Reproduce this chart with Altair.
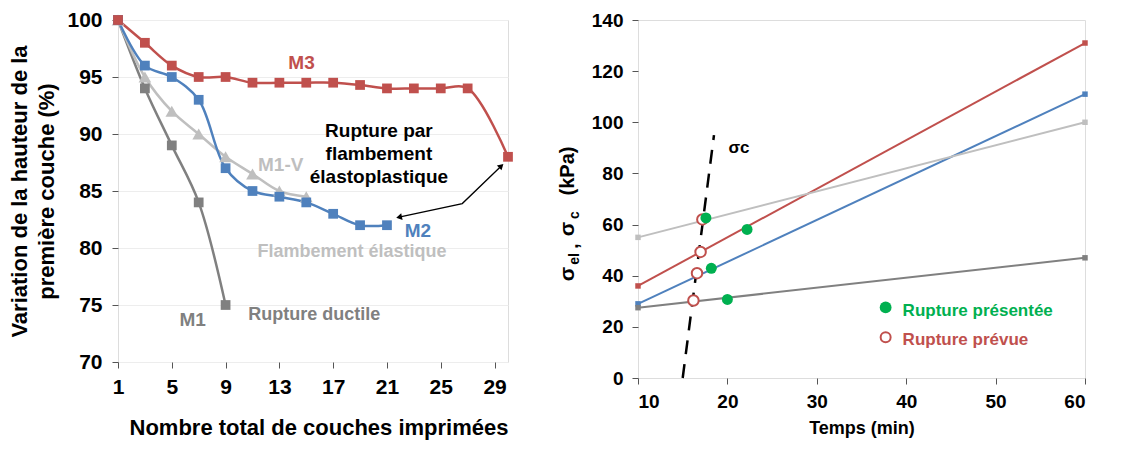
import altair as alt
import pandas as pd

FONT = "Liberation Sans"
RED = "#c0504d"
BLUE = "#4f81bd"
LGRAY = "#bfbfbf"
GRAY = "#808080"
GREEN = "#00b050"

# ---------------- Left panel data ----------------
series_names = ["M1", "M1-V", "M2", "M3"]
m3_x = [1, 3, 5, 7, 9, 11, 13, 15, 17, 19, 21, 23, 25, 27, 30]
m3_y = [100, 98, 96, 95, 95, 94.5, 94.5, 94.5, 94.5, 94.3, 94, 94, 94, 94, 88]
m2_x = [1, 3, 5, 7, 9, 11, 13, 15, 17, 19, 21]
m2_y = [100, 96, 95, 93, 87, 85, 84.5, 84, 83, 82, 82]
m1v_x = [1, 3, 5, 7, 9, 11, 13, 15]
m1v_y = [100, 95, 92, 90, 88, 86.5, 85, 84.5]
m1_x = [1, 3, 5, 7, 9]
m1_y = [100, 94, 89, 84, 75]
left_x_ticks = [1, 5, 9, 13, 17, 21, 25, 29]
left_y_ticks = [70, 75, 80, 85, 90, 95, 100]

# annotation texts (left)
left_labels = ["M3", "M1-V", "M2", "Flambement élastique", "M1", "Rupture ductile"]
left_label_x = [14.65, 13.1, 23.3, 18.4, 6.55, 15.6]
left_label_y = [96.2, 87.3, 81.5, 79.65, 73.7, 74.15]
left_label_col = [RED, LGRAY, BLUE, LGRAY, GRAY, GRAY]
left_label_fs = [19, 19, 19, 18, 19, 18]
rupt_text = ["Rupture par", "flambement", "élastoplastique"]
rupt_x = 20.4
rupt_y = 90.25
arrow_x = [21.9, 26.6, 29.5]
arrow_y = [82.7, 83.9, 87.2]

# ---------------- Right panel data ----------------
right_series = ["M3", "M2", "M1 - V", "M1"]
right_t = [10, 60]
r_m3 = [36, 131]
r_m2 = [29, 111]
r_m1v = [55, 100]
r_m1 = [27.5, 47]
sigma_c_t = [15, 18.5]
sigma_c_v = [0, 95]
obs_t = [17.6, 22.2, 18.2, 20.0]
obs_v = [62.6, 58.1, 42.9, 30.7]
pred_t = [17.2, 17.0, 16.6, 16.2]
pred_v = [62.0, 49.3, 41.0, 30.3]
right_x_ticks = [10, 20, 30, 40, 50, 60]
right_y_ticks = [0, 20, 40, 60, 80, 100, 120, 140]
right_label_t = [53.9, 56.9, 54.6, 57.4]
right_label_v = [131.1, 114.5, 85.3, 53.1]
legend_names = ["Rupture présentée", "Rupture prévue"]

# ================= Left chart =================
rows = []
for name, xs, ys in [("M1", m1_x, m1_y), ("M1-V", m1v_x, m1v_y), ("M2", m2_x, m2_y), ("M3", m3_x, m3_y)]:
    for i, (a, b) in enumerate(zip(xs, ys)):
        rows.append({"series": name, "x": a, "y": b, "i": i})
ldf = pd.DataFrame(rows)

lcolor = alt.Color("series:N", scale=alt.Scale(domain=series_names, range=[GRAY, LGRAY, BLUE, RED]), legend=None)
lx = alt.X("x:Q", scale=alt.Scale(domain=[1, 30], nice=False),
           axis=alt.Axis(values=left_x_ticks, title="Nombre total de couches imprimées", grid=False,
                         labelFontSize=21, labelFont=FONT, labelFontWeight="bold", labelColor="black",
                         titleFontSize=22, titleFont=FONT, titleFontWeight="bold", titleColor="black",
                         titleAnchor="end", titlePadding=20, labelPadding=8,
                         tickSize=6, tickColor="#555", domain=False, labelFlush=False))
ly = alt.Y("y:Q", scale=alt.Scale(domain=[70, 100], nice=False),
           axis=alt.Axis(values=left_y_ticks, title=["Variation de la hauteur de la", "première couche  (%)"],
                         grid=True, gridColor="#ededed",
                         labelFontSize=21, labelFont=FONT, labelFontWeight="bold", labelColor="black",
                         titleFontSize=22, titleFont=FONT, titleFontWeight="bold", titleColor="black",
                         titleLineHeight=27, titlePadding=8, labelPadding=10,
                         tickSize=6, tickColor="#555", domain=False))

lbase = alt.Chart(ldf)
l_lines = lbase.mark_line(interpolate="catmull-rom", strokeWidth=2.5).encode(
    x=lx, y=ly, color=lcolor, detail="series:N", order="i:Q")
l_sq = lbase.transform_filter(alt.datum.series != "M1-V").mark_point(
    shape="square", filled=True, opacity=1, size=95).encode(x="x:Q", y="y:Q", color=lcolor)
l_tri = lbase.transform_filter(alt.datum.series == "M1-V").mark_point(
    shape="triangle-up", filled=True, opacity=1, size=160).encode(x="x:Q", y="y:Q", color=lcolor)

lab_df = pd.DataFrame({"t": left_labels, "x": left_label_x, "y": left_label_y, "c": left_label_col,
                       "fs": left_label_fs})
l_text = alt.Chart(lab_df).mark_text(font=FONT, fontWeight="bold").encode(
    x="x:Q", y="y:Q", text="t:N", color=alt.Color("c:N", scale=None), size=alt.Size("fs:Q", scale=None))
rupt_df = pd.DataFrame({"x": [rupt_x], "y": [rupt_y], "t": [rupt_text]})
l_rupt = alt.Chart(rupt_df).mark_text(font=FONT, fontWeight="bold", fontSize=19, lineHeight=23,
                                      baseline="middle", color="black").encode(x="x:Q", y="y:Q", text="t")
arr_df = pd.DataFrame({"x": arrow_x, "y": arrow_y, "i": [0, 1, 2]})
l_arrow = alt.Chart(arr_df).mark_line(color="black", strokeWidth=1.3).encode(x="x:Q", y="y:Q", order="i:Q")
head_df = pd.DataFrame({"x": [arrow_x[0], arrow_x[2]], "y": [arrow_y[0], arrow_y[2]], "a": [168, 316]})
l_heads = alt.Chart(head_df).mark_point(shape="triangle-right", filled=True, color="black", size=45, opacity=1).encode(
    x="x:Q", y="y:Q", angle=alt.Angle("a:Q", scale=None))

left = alt.layer(l_lines, l_tri, l_sq, l_text, l_rupt, l_arrow, l_heads).properties(width=390, height=342)

# ================= Right chart =================
rrows = []
for name, vs in zip(right_series, [r_m3, r_m2, r_m1v, r_m1]):
    for t, v in zip(right_t, vs):
        rrows.append({"series": name, "t": t, "v": v})
rdf = pd.DataFrame(rrows)
rcolor = alt.Color("series:N", scale=alt.Scale(domain=right_series, range=[RED, BLUE, LGRAY, GRAY]), legend=None)
rx = alt.X("t:Q", scale=alt.Scale(domain=[10, 60], nice=False),
           axis=alt.Axis(values=right_x_ticks, title="Temps (min)", grid=False,
                         labelFontSize=19, labelFont=FONT, labelFontWeight="bold", labelColor="black",
                         titleFontSize=18, titleFont=FONT, titleFontWeight="bold", titleColor="black",
                         titlePadding=8, labelPadding=8, tickSize=6, tickColor="#555", domain=False))
ry = alt.Y("v:Q", scale=alt.Scale(domain=[0, 140], nice=False),
           axis=alt.Axis(values=right_y_ticks, title=None, grid=False,
                         labelFontSize=19, labelFont=FONT, labelFontWeight="bold", labelColor="black",
                         labelPadding=9, tickSize=6, tickColor="#555", domain=False))
rbase = alt.Chart(rdf)
r_lines = rbase.mark_line(strokeWidth=2).encode(x=rx, y=ry, color=rcolor, detail="series:N")
r_ends = rbase.mark_point(shape="square", filled=True, size=30, opacity=1).encode(x="t:Q", y="v:Q", color=rcolor)

sc_df = pd.DataFrame({"t": sigma_c_t, "v": sigma_c_v})
r_sc = alt.Chart(sc_df).mark_line(color="black", strokeWidth=2.5, strokeDash=[14, 10]).encode(x="t:Q", y="v:Q")
sc_lab = alt.Chart(pd.DataFrame({"t": [21.3], "v": [90], "s": ["σc"]})).mark_text(
    font=FONT, fontWeight="bold", fontSize=17, color="black").encode(x="t:Q", y="v:Q", text="s:N")

pred_df = pd.DataFrame({"t": pred_t, "v": pred_v})
obs_df = pd.DataFrame({"t": obs_t, "v": obs_v})
r_obs = alt.Chart(obs_df).mark_circle(color=GREEN, size=120, opacity=1).encode(x="t:Q", y="v:Q")
r_pred = alt.Chart(pred_df).mark_point(shape="circle", filled=True, fill="white", stroke=RED, strokeWidth=2,
                                       size=110, opacity=1).encode(x="t:Q", y="v:Q")

rlab_df = pd.DataFrame({"t": right_label_t, "v": right_label_v, "s": right_series})
r_text = alt.Chart(rlab_df).mark_text(font=FONT, fontWeight="bold", fontSize=19).encode(
    x="t:Q", y="v:Q", text="s:N", color=rcolor)

leg_mark_df = pd.DataFrame({"t": [37.7], "v": [27.6]})
leg_open_df = pd.DataFrame({"t": [37.7], "v": [15.9]})
leg_obs = alt.Chart(leg_mark_df).mark_circle(color=GREEN, size=140, opacity=1).encode(x="t:Q", y="v:Q")
leg_pred = alt.Chart(leg_open_df).mark_point(shape="circle", filled=True, fill="white", stroke=RED, strokeWidth=2,
                                             size=100, opacity=1).encode(x="t:Q", y="v:Q")
leg_txt_df = pd.DataFrame({"t": [39.6, 39.6], "v": [26.3, 14.9], "s": legend_names, "c": [GREEN, RED]})
leg_txt = alt.Chart(leg_txt_df).mark_text(font=FONT, fontWeight="bold", fontSize=17, align="left").encode(
    x="t:Q", y="v:Q", text="s:N", color=alt.Color("c:N", scale=None))

# y-axis title with subscripts, built from rotated text pieces
ttl_parts = ["σ", "el", ",", "σ", "c", "(kPa)"]
ttl_dx = [-70, -63, -66, -70, -63, -70]
ttl_dy = [254, 239, 226, 209, 195, 151]
ttl_fs = [21, 14, 19, 21, 14, 20]
ttl = []
for s, dx, dy, fs in zip(ttl_parts, ttl_dx, ttl_dy, ttl_fs):
    ttl.append(alt.Chart(pd.DataFrame({"s": [s]})).mark_text(
        font=FONT, fontWeight="bold", fontSize=fs, angle=270, align="center", baseline="middle", color="black"
    ).encode(x=alt.value(dx), y=alt.value(dy), text="s:N"))

right = alt.layer(r_lines, r_ends, r_sc, sc_lab, r_text, r_pred, r_obs, leg_obs, leg_pred, leg_txt, *ttl).properties(
    width=447, height=358)

chart = alt.hconcat(left, right, spacing=42).resolve_scale(
    color="independent"
).configure_view(stroke="black", strokeWidth=2).configure(
    background="white", padding={"left": 0, "top": 0, "right": 5, "bottom": 5})

chart.save("out.html", embed_options={"renderer": "svg", "actions": False})
